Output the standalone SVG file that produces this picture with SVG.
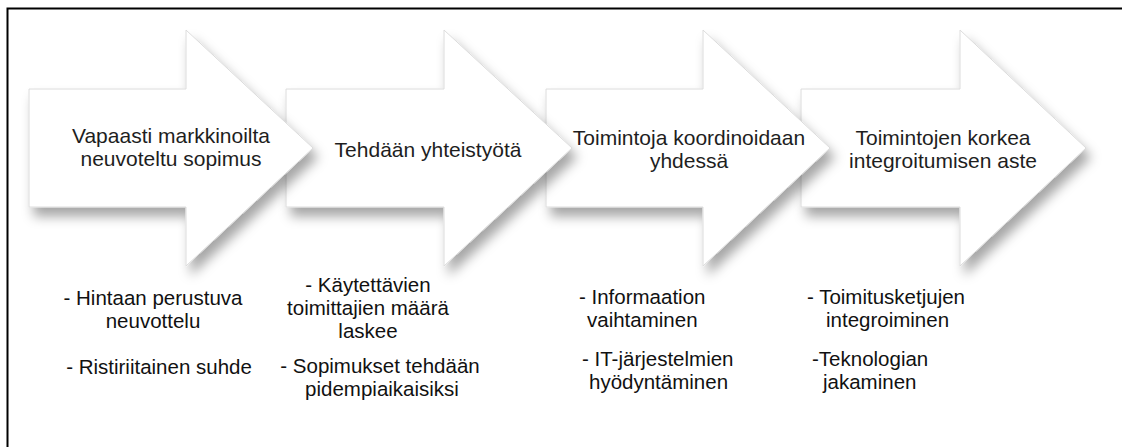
<svg xmlns="http://www.w3.org/2000/svg" width="1122" height="447" viewBox="0 0 1122 447">
<defs>
<style>
.arrow{fill:#ffffff;stroke:#dcdcdc;stroke-width:1;filter:url(#sh);}
.t{font-family:"Liberation Sans",Arial,sans-serif;font-size:21px;fill:#1e1e1e;text-anchor:middle;}
.b{font-family:"Liberation Sans",Arial,sans-serif;font-size:20.5px;fill:#111;}
.c{text-anchor:middle;}
</style>
<filter id="sh" x="-20%" y="-20%" width="150%" height="150%">
<feDropShadow dx="5" dy="9" stdDeviation="6" flood-color="#000" flood-opacity="0.35"/>
</filter>
</defs>
<rect x="0" y="0" width="1122" height="447" fill="#fff"/>
<g id="frame" stroke="#000" stroke-width="2" fill="none">
<path d="M7.5,447 V8.5 H1122"/>
</g>
<g id="connectors"></g>
<g id="arrow4">
<path class="arrow" d="M801,89 H960 V30 L1086,148 L960,266 V207 H801 Z"/>
<text class="t" x="943" y="145">Toimintojen korkea</text>
<text class="t" x="943" y="168">integroitumisen aste</text>
</g>
<g id="arrow3">
<path class="arrow" d="M546,89 H703 V30 L830,148 L703,266 V207 H546 Z"/>
<text class="t" x="689" y="145">Toimintoja koordinoidaan</text>
<text class="t" x="689" y="168">yhdessä</text>
</g>
<g id="arrow2">
<path class="arrow" d="M286,89 H444 V30 L572,148 L444,266 V207 H286 Z"/>
<text class="t" x="428" y="157">Tehdään yhteistyötä</text>
</g>
<g id="arrow1">
<path class="arrow" d="M29,89 H186 V30 L313,148 L186,266 V207 H29 Z"/>
<text class="t" x="171" y="143">Vapaasti markkinoilta</text>
<text class="t" x="171" y="166">neuvoteltu sopimus</text>
</g>
<g id="notes1">
<text class="b c" x="153" y="305">- Hintaan perustuva</text>
<text class="b c" x="153" y="328">neuvottelu</text>
<text class="b c" x="159" y="374">- Ristiriitainen suhde</text>
</g>
<g id="notes2">
<text class="b c" x="368" y="292">- Käytettävien</text>
<text class="b c" x="368" y="315">toimittajien määrä</text>
<text class="b c" x="368" y="338">laskee</text>
<text class="b c" x="380" y="373">- Sopimukset tehdään</text>
<text class="b c" x="382" y="396">pidempiaikaisiksi</text>
</g>
<g id="notes3">
<text class="b" x="579" y="304">- Informaation</text>
<text class="b" x="587" y="327">vaihtaminen</text>
<text class="b" x="582" y="366">- IT-järjestelmien</text>
<text class="b" x="589" y="389">hyödyntäminen</text>
</g>
<g id="notes4">
<text class="b" x="807" y="304">- Toimitusketjujen</text>
<text class="b" x="826" y="327">integroiminen</text>
<text class="b" x="812" y="366">-Teknologian</text>
<text class="b" x="823" y="389">jakaminen</text>
</g>
</svg>
